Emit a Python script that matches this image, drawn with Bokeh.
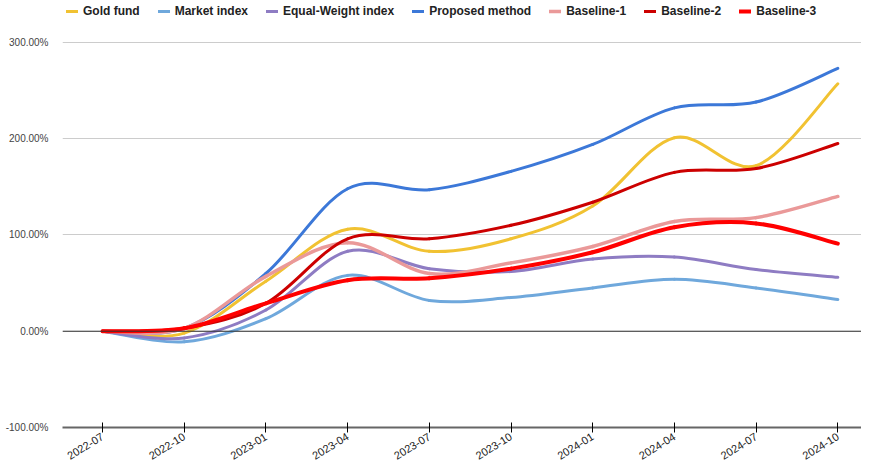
import math
from bokeh.plotting import figure
from bokeh.models import (Range1d, FixedTicker, PrintfTickFormatter, Span,
                          Legend, LegendItem, ColumnDataSource)
from bokeh.embed import file_html
from bokeh.resources import INLINE

# ---- data -----------------------------------------------------------------
months = ["2022-07", "2022-10", "2023-01", "2023-04", "2023-07",
          "2023-10", "2024-01", "2024-04", "2024-07", "2024-10"]
gold_fund = [0, -2, 52, 106, 83, 96, 130, 201, 172, 257]
market_index = [0, -11, 13, 58, 32, 35, 45, 54, 45, 33]
equal_weight = [0, -7, 22, 83, 65, 62, 75, 77, 64, 56]
proposed_method = [0, 3, 60, 148, 147, 166, 194, 232, 238, 273]
baseline_1 = [0, 3, 57, 92, 60, 71, 88, 114, 118, 140]
baseline_2 = [0, 3, 29, 96, 96, 110, 134, 165, 169, 195]
baseline_3 = [0, 3, 29, 53, 55, 65, 82, 108, 112, 91]
y_ticks = [-100, 0, 100, 200, 300]

series = [
    ("Gold fund", gold_fund, "#f1c232", 3),
    ("Market index", market_index, "#6fa8dc", 3),
    ("Equal-Weight index", equal_weight, "#8e7cc3", 3),
    ("Proposed method", proposed_method, "#3c78d8", 3),
    ("Baseline-1", baseline_1, "#ea9999", 3.5),
    ("Baseline-2", baseline_2, "#cc0000", 3),
    ("Baseline-3", baseline_3, "#ff0000", 4),
]

FONT = "Liberation Sans"

# the frame reaches the top of the picture so the legend can sit above 300 %
p = figure(width=861, height=466, output_backend="svg", toolbar_location=None,
           x_range=Range1d(-0.49, 9.29), y_range=Range1d(-100, 343.5),
           min_border_left=62, min_border_right=0, min_border_top=0,
           min_border_bottom=38)
p.outline_line_color = None
p.background_fill_color = "white"

# grid
p.xgrid.visible = False
p.ygrid.ticker = FixedTicker(ticks=y_ticks)
p.ygrid.grid_line_color = "#cccccc"
p.ygrid.grid_line_width = 1
p.add_layout(Span(location=0, dimension="width", line_color="#333333",
                  line_width=1, level="glyph"))

# axes
p.yaxis.ticker = FixedTicker(ticks=y_ticks)
p.yaxis.formatter = PrintfTickFormatter(format="%.2f%%")
p.yaxis.axis_line_color = None
p.yaxis.major_tick_line_color = None
p.yaxis.minor_tick_line_color = None
p.yaxis.major_label_text_font = FONT
p.yaxis.major_label_text_font_size = "10px"
p.yaxis.major_label_text_color = "#444444"
p.yaxis.major_label_standoff = 8

p.xaxis.ticker = FixedTicker(ticks=list(range(len(months))))
p.xaxis.major_label_overrides = {i: m for i, m in enumerate(months)}
p.xaxis.major_label_orientation = 0.55
p.xaxis.axis_line_color = "#666666"
p.xaxis.axis_line_width = 2
p.xaxis.major_tick_line_color = "#000000"
p.xaxis.major_tick_in = 5
p.xaxis.major_tick_out = 5
p.xaxis.minor_tick_line_color = None
p.xaxis.major_label_text_font = FONT
p.xaxis.major_label_text_font_size = "11px"
p.xaxis.major_label_text_color = "#222222"
p.xaxis.major_label_standoff = 3

# smooth curves through each series' points (Catmull-Rom as cubic Bezier)
T = 1.0 / 6.0
items = []
for name, vals, color, lw in series:
    n = len(vals)
    xs = list(range(n))
    x0, y0, x1, y1, cx0, cy0, cx1, cy1 = [], [], [], [], [], [], [], []
    for i in range(n - 1):
        ip = max(i - 1, 0)
        inn = min(i + 2, n - 1)
        x0.append(xs[i]); y0.append(vals[i])
        x1.append(xs[i + 1]); y1.append(vals[i + 1])
        cx0.append(xs[i] + (xs[i + 1] - xs[ip]) * T)
        cy0.append(vals[i] + (vals[i + 1] - vals[ip]) * T)
        cx1.append(xs[i + 1] - (xs[inn] - xs[i]) * T)
        cy1.append(vals[i + 1] - (vals[inn] - vals[i]) * T)
    src = ColumnDataSource(dict(x0=x0, y0=y0, x1=x1, y1=y1,
                                cx0=cx0, cy0=cy0, cx1=cx1, cy1=cy1))
    r = p.bezier(x0="x0", y0="y0", x1="x1", y1="y1", cx0="cx0", cy0="cy0",
                 cx1="cx1", cy1="cy1", source=src, line_color=color,
                 line_width=lw, line_cap="round")
    items.append(LegendItem(label=name, renderers=[r], index=0))

legend = Legend(items=items, orientation="horizontal", location="top_left",
                padding=0, margin=4, spacing=18, label_standoff=5,
                glyph_width=12, glyph_height=14, label_height=14,
                label_text_font=FONT, label_text_font_style="bold",
                label_text_font_size="12px", label_text_color="#222222",
                border_line_color=None, background_fill_alpha=0)
p.add_layout(legend, "center")

open("out.html", "w").write(file_html(p, INLINE))
